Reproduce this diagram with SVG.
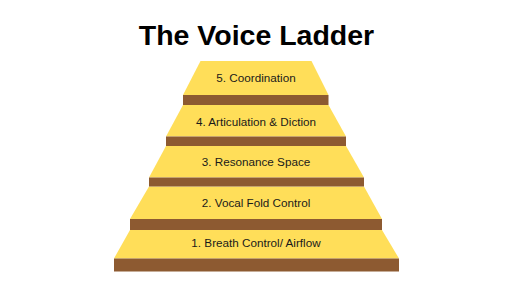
<svg xmlns="http://www.w3.org/2000/svg" width="512" height="288" viewBox="0 0 512 288">
<style>
.step{fill:#FFDE59}
.bar{fill:#8D5A31}
.lbl{font-family:"Liberation Sans",Arial,sans-serif;font-size:11.7px;fill:#1a1a1a;text-anchor:middle}
.title{font-family:"Liberation Sans",Arial,sans-serif;font-size:28.5px;font-weight:bold;fill:#000;text-anchor:middle}
</style>
<rect width="512" height="288" fill="#fff"/>
<text class="title" x="256.5" y="45">The Voice Ladder</text>
<g id="step1">
<polygon class="step" points="130,230 382,230 399,258.5 114,258.5"/>
<rect class="bar" x="114" y="258.5" width="285" height="13"/>
<text class="lbl" x="256" y="247">1. Breath Control/ Airflow</text>
</g>
<g id="step2">
<polygon class="step" points="149,186.5 364,186.5 382,219 130,219"/>
<rect class="bar" x="130" y="219" width="252" height="11"/>
<text class="lbl" x="256" y="207">2. Vocal Fold Control</text>
</g>
<g id="step3">
<polygon class="step" points="166,146 346,146 364,177.5 149,177.5"/>
<rect class="bar" x="149" y="177.5" width="215" height="9"/>
<text class="lbl" x="256" y="166">3. Resonance Space</text>
</g>
<g id="step4">
<polygon class="step" points="183,105 328.5,105 346,136.5 166,136.5"/>
<rect class="bar" x="166" y="136.5" width="180" height="9.5"/>
<text class="lbl" x="256" y="126">4. Articulation &amp; Diction</text>
</g>
<g id="step5">
<polygon class="step" points="200.5,61 311.5,61 328.5,95 183,95"/>
<rect class="bar" x="183" y="95" width="145.5" height="10"/>
<text class="lbl" x="256" y="82">5. Coordination</text>
</g>
<g id="connectors"/>
</svg>
